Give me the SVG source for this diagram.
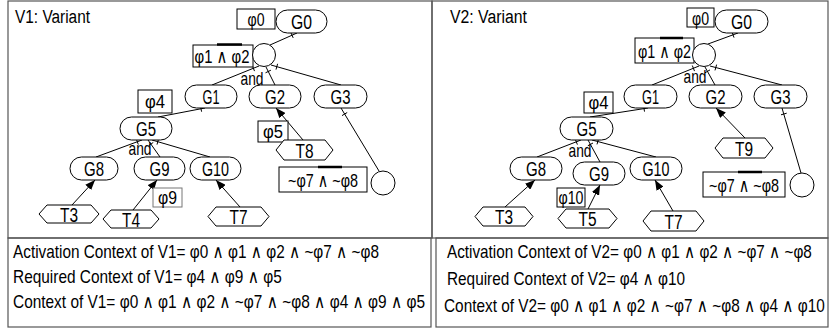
<svg xmlns="http://www.w3.org/2000/svg" width="831" height="329" viewBox="0 0 831 329">
  <defs>
    <marker id="arrow" markerUnits="userSpaceOnUse" markerWidth="10" markerHeight="8" refX="10" refY="4" orient="auto">
      <path d="M0,0 L10,4 L0,8 z" fill="#000"/>
    </marker>
  </defs>
  <style>
    text { font-family: "Liberation Sans", Arial, "DejaVu Sans", sans-serif; fill: #000; }
    .title { font-size: 18px; }
    .lbl { font-size: 20px; text-anchor: middle; }
    .cond { font-size: 19px; text-anchor: middle; }
    .ctx { font-size: 18.5px; }
    .pill, .hex, .box, .dec { fill: #fff; stroke: #000; stroke-width: 1; }
    .box.grey { stroke: #777; }
    .frame { fill: none; stroke: #555; stroke-width: 1.2; }
    .bar { stroke: #000; stroke-width: 2.5; }
    .link line { stroke: #000; stroke-width: 1; fill: none; }
    .arr { marker-end: url(#arrow); }
  </style>

  <!-- panel frames -->
  <g id="frames">
    <rect class="frame" x="8" y="1" width="424" height="237"/>
    <rect class="frame" x="8" y="238" width="423" height="89"/>
    <rect class="frame" x="432" y="1" width="396" height="237"/>
    <rect class="frame" x="436" y="238" width="392" height="89"/>
  </g>

  <!-- ===================== V1 ===================== -->
  <text class="title" x="15" y="23" textLength="75" lengthAdjust="spacingAndGlyphs">V1: Variant</text>

  <g id="v1-links" class="link">
    <line x1="270" y1="45" x2="297" y2="33"/>
    <line x1="290.8" y1="32.5" x2="293.2" y2="37.9"/>
    <line x1="259" y1="66" x2="212" y2="85"/>
    <line x1="266" y1="67" x2="275" y2="85"/>
    <line x1="271" y1="65" x2="341" y2="85"/>
    <line x1="252.3" y1="65.5" x2="254.5" y2="71.1"/>
    <line x1="265.5" y1="72.8" x2="270.9" y2="70.2"/>
    <line x1="276" y1="69.6" x2="277.6" y2="63.8"/>
    <line x1="205" y1="108" x2="158" y2="117"/>
    <line x1="200.4" y1="105.9" x2="201.6" y2="111.7"/>
    <line x1="142" y1="140" x2="96" y2="157"/>
    <line x1="148" y1="140" x2="160" y2="157"/>
    <line x1="152" y1="140" x2="210" y2="157"/>
    <line x1="136.3" y1="138.9" x2="138.3" y2="144.5"/>
    <line x1="148.5" y1="145.8" x2="153.3" y2="142.4"/>
    <line x1="157" y1="144.6" x2="158.6" y2="138.8"/>
    <line x1="341" y1="108" x2="379" y2="171"/>
    <line x1="342" y1="115.6" x2="347.2" y2="112.5"/>
    <line class="arr" x1="72" y1="205" x2="95" y2="180"/>
    <line class="arr" x1="133" y1="210" x2="157" y2="180"/>
    <line class="arr" x1="240" y1="207" x2="216" y2="180"/>
    <line class="arr" x1="303" y1="140" x2="276" y2="108"/>
  </g>

  <g id="v1-phi0"><rect class="box" x="237" y="9" width="38" height="20"/><text class="cond" x="256" y="25.5" textLength="17" lengthAdjust="spacingAndGlyphs">φ0</text></g>
  <g id="v1-G0"><rect class="pill" x="276" y="10" width="51" height="23" rx="11.5"/><text class="lbl" x="301.5" y="29" textLength="21" lengthAdjust="spacingAndGlyphs">G0</text></g>
  <g id="v1-phi12"><rect class="box" x="193" y="45" width="60" height="22"/><line class="bar" x1="217" y1="44.5" x2="242" y2="44.5"/><text class="cond" x="222" y="62.5" textLength="55" lengthAdjust="spacingAndGlyphs">φ1 ∧ φ2</text></g>
  <g id="v1-or"><circle class="dec" cx="264" cy="55" r="11.5"/></g>
  <g id="v1-and1"><text class="cond" x="252" y="85" textLength="23" lengthAdjust="spacingAndGlyphs">and</text></g>
  <g id="v1-G1"><rect class="pill" x="185" y="85" width="52" height="23" rx="11.5"/><text class="lbl" x="211" y="104" textLength="17" lengthAdjust="spacingAndGlyphs">G1</text></g>
  <g id="v1-G2"><rect class="pill" x="249" y="85" width="52" height="23" rx="11.5"/><text class="lbl" x="275" y="104" textLength="20" lengthAdjust="spacingAndGlyphs">G2</text></g>
  <g id="v1-G3"><rect class="pill" x="314" y="85" width="53" height="23" rx="11.5"/><text class="lbl" x="340.5" y="104" textLength="20" lengthAdjust="spacingAndGlyphs">G3</text></g>
  <g id="v1-phi4"><rect class="box" x="138" y="90" width="34" height="23"/><text class="cond" x="155" y="108" textLength="20" lengthAdjust="spacingAndGlyphs">φ4</text></g>
  <g id="v1-G5"><rect class="pill" x="120" y="117" width="52" height="23" rx="11.5"/><text class="lbl" x="146" y="136" textLength="20" lengthAdjust="spacingAndGlyphs">G5</text></g>
  <g id="v1-and2"><text class="cond" x="140" y="155" textLength="23" lengthAdjust="spacingAndGlyphs">and</text></g>
  <g id="v1-G8"><rect class="pill" x="70" y="157" width="48" height="23" rx="11.5"/><text class="lbl" x="94" y="176" textLength="20" lengthAdjust="spacingAndGlyphs">G8</text></g>
  <g id="v1-G9"><rect class="pill" x="134" y="157" width="51" height="23" rx="11.5"/><text class="lbl" x="159.5" y="176" textLength="20" lengthAdjust="spacingAndGlyphs">G9</text></g>
  <g id="v1-G10"><rect class="pill" x="190" y="157" width="51" height="23" rx="11.5"/><text class="lbl" x="215.5" y="176" textLength="27" lengthAdjust="spacingAndGlyphs">G10</text></g>
  <g id="v1-phi5"><rect class="box" x="258" y="121" width="30" height="21"/><text class="cond" x="273" y="138" textLength="20" lengthAdjust="spacingAndGlyphs">φ5</text></g>
  <g id="v1-T8"><polygon class="hex" points="276,150 284,140 325,140 333,150 325,160 284,160"/><text class="lbl" x="304.5" y="157.5" textLength="18" lengthAdjust="spacingAndGlyphs">T8</text></g>
  <g id="v1-phi78"><rect class="box" x="279" y="167" width="88" height="25"/><line class="bar" x1="318" y1="167" x2="342" y2="167"/><text class="cond" x="323" y="186.5" textLength="70" lengthAdjust="spacingAndGlyphs">~φ7 ∧ ~φ8</text></g>
  <g id="v1-or2"><circle class="dec" cx="383" cy="183" r="12"/></g>
  <g id="v1-phi9"><rect class="box grey" x="153" y="188" width="29" height="19"/><text class="cond" x="167.5" y="204" textLength="19" lengthAdjust="spacingAndGlyphs">φ9</text></g>
  <g id="v1-T3"><polygon class="hex" points="39,214 47,205 91,205 99,214 91,223 47,223"/><text class="lbl" x="69" y="221.5" textLength="18" lengthAdjust="spacingAndGlyphs">T3</text></g>
  <g id="v1-T4"><polygon class="hex" points="103,219 111,210 151,210 159,219 151,228 111,228"/><text class="lbl" x="131" y="226.5" textLength="18" lengthAdjust="spacingAndGlyphs">T4</text></g>
  <g id="v1-T7"><polygon class="hex" points="208,216.5 216,207 261,207 269,216.5 261,226 216,226"/><text class="lbl" x="238.5" y="224" textLength="18" lengthAdjust="spacingAndGlyphs">T7</text></g>

  <!-- ===================== V2 ===================== -->
  <text class="title" x="450" y="23" textLength="77" lengthAdjust="spacingAndGlyphs">V2: Variant</text>

  <g id="v2-links" class="link">
    <line x1="708" y1="44" x2="738" y2="33"/>
    <line x1="732" y1="32" x2="734" y2="37.6"/>
    <line x1="699" y1="66" x2="652" y2="85"/>
    <line x1="705" y1="67" x2="715" y2="85"/>
    <line x1="710" y1="66" x2="782" y2="85"/>
    <line x1="692.3" y1="65.5" x2="694.5" y2="71.1"/>
    <line x1="704.8" y1="72.9" x2="710" y2="69.9"/>
    <line x1="715" y1="70.4" x2="716.6" y2="64.6"/>
    <line x1="648" y1="108" x2="590" y2="117"/>
    <line x1="643.5" y1="105.6" x2="644.5" y2="111.6"/>
    <line x1="581" y1="140" x2="537" y2="157"/>
    <line x1="588" y1="140" x2="600" y2="162"/>
    <line x1="592" y1="140" x2="656" y2="157"/>
    <line x1="575.2" y1="139" x2="577.4" y2="144.6"/>
    <line x1="587.8" y1="145.8" x2="593" y2="143"/>
    <line x1="597" y1="144.4" x2="598.6" y2="138.6"/>
    <line x1="782" y1="108" x2="801" y2="173"/>
    <line x1="781" y1="114.8" x2="786.7" y2="113.2"/>
    <line class="arr" x1="505" y1="207" x2="535" y2="180"/>
    <line class="arr" x1="588" y1="209" x2="600" y2="185"/>
    <line class="arr" x1="673" y1="211" x2="655" y2="180"/>
    <line class="arr" x1="745" y1="138" x2="716" y2="108"/>
  </g>

  <g id="v2-phi0"><rect class="box" x="687" y="8" width="27" height="19"/><text class="cond" x="700.5" y="24.5" textLength="17" lengthAdjust="spacingAndGlyphs">φ0</text></g>
  <g id="v2-G0"><rect class="pill" x="715" y="10" width="53" height="23" rx="11.5"/><text class="lbl" x="741.5" y="29" textLength="21" lengthAdjust="spacingAndGlyphs">G0</text></g>
  <g id="v2-phi12"><rect class="box" x="635" y="38" width="59" height="25"/><line class="bar" x1="660" y1="38" x2="683" y2="38"/><text class="cond" x="664.5" y="57.5" textLength="53" lengthAdjust="spacingAndGlyphs">φ1 ∧ φ2</text></g>
  <g id="v2-or"><circle class="dec" cx="704" cy="55" r="11.5"/></g>
  <g id="v2-and1"><text class="cond" x="695" y="83" textLength="23" lengthAdjust="spacingAndGlyphs">and</text></g>
  <g id="v2-G1"><rect class="pill" x="624" y="85" width="53" height="23" rx="11.5"/><text class="lbl" x="650.5" y="104" textLength="17" lengthAdjust="spacingAndGlyphs">G1</text></g>
  <g id="v2-G2"><rect class="pill" x="689" y="85" width="53" height="23" rx="11.5"/><text class="lbl" x="715.5" y="104" textLength="20" lengthAdjust="spacingAndGlyphs">G2</text></g>
  <g id="v2-G3"><rect class="pill" x="754" y="85" width="53" height="23" rx="11.5"/><text class="lbl" x="780.5" y="104" textLength="20" lengthAdjust="spacingAndGlyphs">G3</text></g>
  <g id="v2-phi4"><rect class="box" x="584" y="92" width="29" height="21"/><text class="cond" x="598.5" y="109" textLength="20" lengthAdjust="spacingAndGlyphs">φ4</text></g>
  <g id="v2-G5"><rect class="pill" x="560" y="117" width="53" height="23" rx="11.5"/><text class="lbl" x="586.5" y="136" textLength="20" lengthAdjust="spacingAndGlyphs">G5</text></g>
  <g id="v2-and2"><text class="cond" x="580" y="157" textLength="23" lengthAdjust="spacingAndGlyphs">and</text></g>
  <g id="v2-G8"><rect class="pill" x="510" y="157" width="52" height="23" rx="11.5"/><text class="lbl" x="536" y="176" textLength="20" lengthAdjust="spacingAndGlyphs">G8</text></g>
  <g id="v2-G9"><rect class="pill" x="573" y="162" width="52" height="23" rx="11.5"/><text class="lbl" x="599" y="181" textLength="20" lengthAdjust="spacingAndGlyphs">G9</text></g>
  <g id="v2-G10"><rect class="pill" x="630" y="157" width="52" height="23" rx="11.5"/><text class="lbl" x="656" y="176" textLength="27" lengthAdjust="spacingAndGlyphs">G10</text></g>
  <g id="v2-T9"><polygon class="hex" points="715,148 723,138 765,138 773,148 765,158 723,158"/><text class="lbl" x="744" y="155.5" textLength="18" lengthAdjust="spacingAndGlyphs">T9</text></g>
  <g id="v2-phi78"><rect class="box" x="703" y="172" width="82" height="25"/><line class="bar" x1="738" y1="172" x2="762" y2="172"/><text class="cond" x="744" y="191.5" textLength="70" lengthAdjust="spacingAndGlyphs">~φ7 ∧ ~φ8</text></g>
  <g id="v2-or2"><circle class="dec" cx="802" cy="185" r="12"/></g>
  <g id="v2-phi10"><rect class="box" x="557" y="188" width="28" height="19"/><text class="cond" x="571" y="204" textLength="25" lengthAdjust="spacingAndGlyphs">φ10</text></g>
  <g id="v2-T3"><polygon class="hex" points="475,216.5 483,207 525,207 533,216.5 525,226 483,226"/><text class="lbl" x="504" y="224" textLength="18" lengthAdjust="spacingAndGlyphs">T3</text></g>
  <g id="v2-T5"><polygon class="hex" points="558,218.5 566,209 609,209 617,218.5 609,228 566,228"/><text class="lbl" x="587.5" y="226" textLength="18" lengthAdjust="spacingAndGlyphs">T5</text></g>
  <g id="v2-T7"><polygon class="hex" points="643,221 651,211 696,211 704,221 696,231 651,231"/><text class="lbl" x="673.5" y="228.5" textLength="18" lengthAdjust="spacingAndGlyphs">T7</text></g>

  <!-- context formulas: condensed horizontally to the narrow face of the panel -->
  <g id="v1-context">
    <text class="ctx" transform="translate(13,258) scale(0.8,1)" textLength="457.5" lengthAdjust="spacingAndGlyphs">Activation Context of V1= φ0 ∧ φ1 ∧ φ2 ∧ ~φ7 ∧ ~φ8</text>
    <text class="ctx" transform="translate(13,283) scale(0.8,1)" textLength="336" lengthAdjust="spacingAndGlyphs">Required Context of V1= φ4 ∧ φ9 ∧ φ5</text>
    <text class="ctx" transform="translate(13,308) scale(0.8,1)" textLength="515" lengthAdjust="spacingAndGlyphs">Context of V1= φ0 ∧ φ1 ∧ φ2 ∧ ~φ7 ∧ ~φ8 ∧ φ4 ∧ φ9 ∧ φ5</text>
  </g>
  <g id="v2-context">
    <text class="ctx" transform="translate(447,258) scale(0.8,1)" textLength="456" lengthAdjust="spacingAndGlyphs">Activation Context of V2= φ0 ∧ φ1 ∧ φ2 ∧ ~φ7 ∧ ~φ8</text>
    <text class="ctx" transform="translate(447,285) scale(0.8,1)" textLength="297.5" lengthAdjust="spacingAndGlyphs">Required Context of V2= φ4 ∧ φ10</text>
    <text class="ctx" transform="translate(444,312) scale(0.8,1)" textLength="476" lengthAdjust="spacingAndGlyphs">Context of V2= φ0 ∧ φ1 ∧ φ2 ∧ ~φ7 ∧ ~φ8 ∧  φ4 ∧ φ10</text>
  </g>
</svg>
